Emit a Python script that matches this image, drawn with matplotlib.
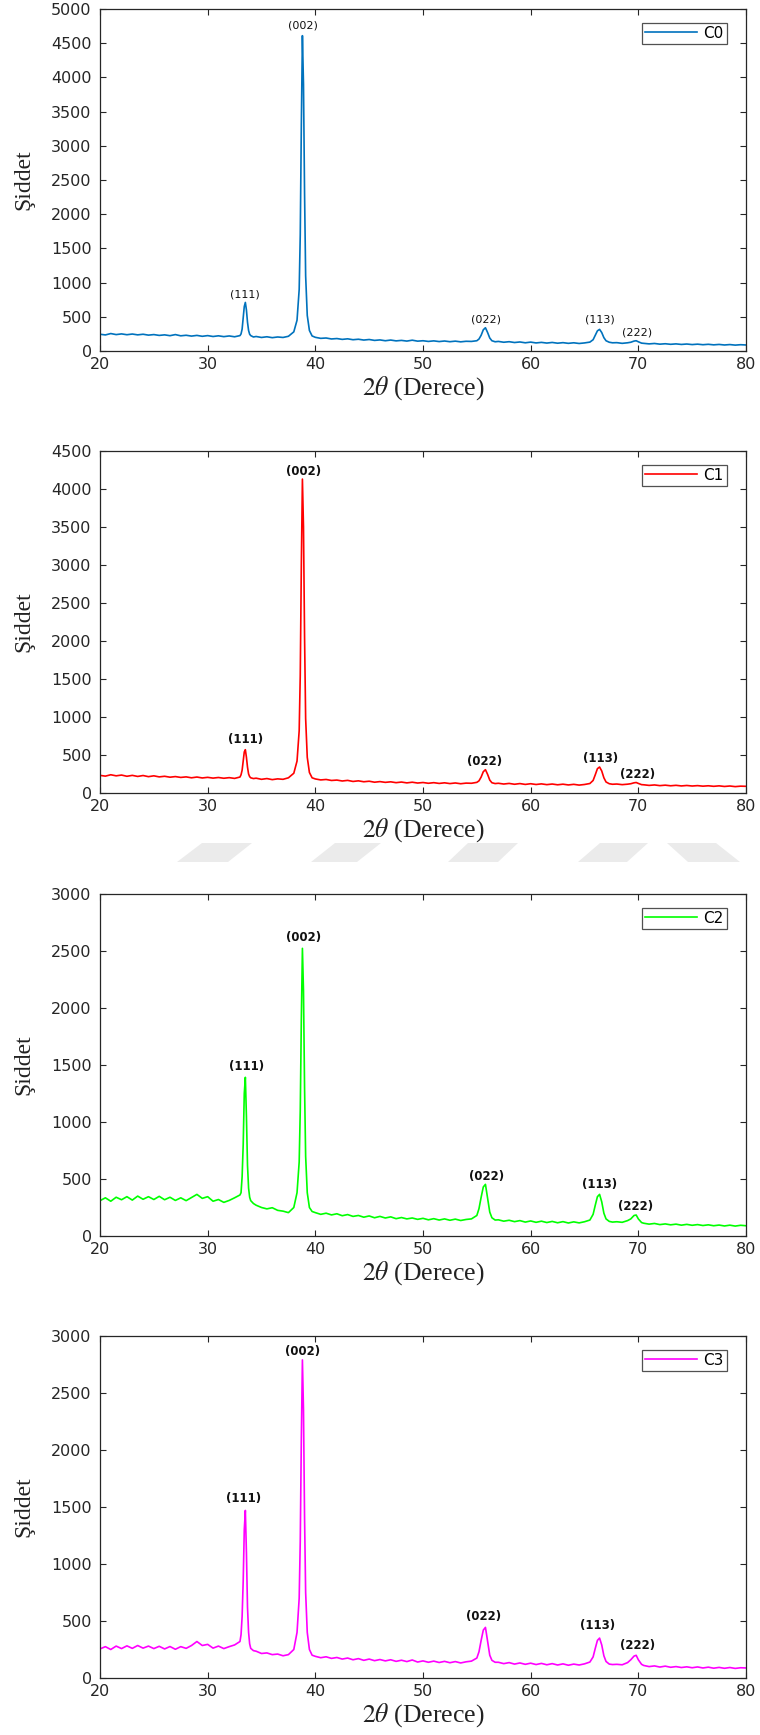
import matplotlib
matplotlib.use("Agg")
import matplotlib.pyplot as plt
from matplotlib.patches import Polygon

# 2-theta grid (degrees), denser around the reflections
TWO_THETA = [
    20.0, 20.5, 21.0, 21.5, 22.0, 22.5, 23.0, 23.5, 24.0, 24.5, 25.0, 25.5, 26.0,
    26.5, 27.0, 27.5, 28.0, 28.5, 29.0, 29.5, 30.0, 30.5, 31.0, 31.5, 32.0, 32.5, 33.0,
    33.1, 33.2, 33.3, 33.4, 33.5, 33.6, 33.7, 33.8, 33.9, 34.0, 34.25,
    34.5, 35.0, 35.5, 36.0, 36.5, 37.0, 37.5, 38.0,
    38.3, 38.5, 38.6, 38.7, 38.8, 38.9, 39.0, 39.1, 39.25, 39.45, 39.7,
    40.0, 40.5, 41.0, 41.5, 42.0, 42.5, 43.0, 43.5, 44.0, 44.5, 45.0, 45.5, 46.0,
    46.5, 47.0, 47.5, 48.0, 48.5, 49.0, 49.5, 50.0, 50.5, 51.0, 51.5, 52.0, 52.5,
    53.0, 53.5, 54.0, 54.5, 55.0,
    55.2, 55.4, 55.6, 55.8, 56.0, 56.2, 56.4, 56.7,
    57.0, 57.5, 58.0, 58.5, 59.0, 59.5, 60.0, 60.5, 61.0, 61.5, 62.0, 62.5, 63.0,
    63.5, 64.0, 64.5, 65.0, 65.5,
    65.8, 66.0, 66.2, 66.4, 66.6, 66.8, 67.0, 67.3, 67.6,
    68.0, 68.5, 69.0,
    69.3, 69.6, 69.8, 70.0, 70.3,
    70.5, 71.0, 71.5, 72.0, 72.5, 73.0, 73.5, 74.0, 74.5, 75.0, 75.5, 76.0, 76.5,
    77.0, 77.5, 78.0, 78.5, 79.0, 79.5, 80.0,
]

C0_INTENSITY = [
    245, 235, 255, 240, 250, 238, 248, 236, 245, 232, 240, 228, 236,
    224, 240, 222, 230, 218, 228, 215, 225, 212, 222, 210, 220, 208, 225,
    250, 320, 480, 650, 710, 600, 420, 300, 245, 225, 205,
    212, 198, 208, 195, 205, 198, 215, 280,
    450, 900, 1700, 3300, 4610, 3900, 2300, 1100, 520, 300, 220,
    200, 185, 190, 176, 182, 170, 178, 165, 172, 160, 168, 155, 162,
    150, 160, 148, 155, 145, 158, 144, 150, 140, 148, 138, 146, 136,
    144, 134, 142, 140, 150,
    175, 230, 310, 340, 270, 190, 150, 135,
    140, 128, 136, 124, 132, 120, 130, 118, 126, 116, 125, 114, 122,
    112, 120, 110, 118, 130,
    165, 230, 295, 316, 270, 195, 150, 128, 120,
    122, 112, 120,
    128, 145, 150, 135, 115,
    112, 104, 110, 100, 106, 98, 104, 96, 102, 94, 100, 92, 98,
    90, 96, 88, 94, 86, 92, 88,
]

C1_INTENSITY = [
    232, 222, 240, 226, 236, 220, 232, 218, 230, 215, 226, 212, 220,
    208, 216, 205, 212, 200, 210, 198, 206, 196, 204, 194, 202, 192, 210,
    240, 300, 420, 540, 570, 470, 340, 250, 215, 200, 190,
    195, 180, 190, 176, 186, 180, 200, 260,
    420, 820, 1550, 3000, 4130, 3500, 2050, 980, 470, 270, 200,
    185, 172, 178, 165, 170, 158, 166, 152, 160, 148, 155, 142, 150,
    140, 147, 136, 144, 133, 142, 131, 138, 128, 136, 126, 134, 124,
    132, 122, 130, 128, 140,
    160, 210, 280, 307, 245, 170, 135, 124,
    128, 118, 126, 115, 124, 113, 122, 112, 120, 110, 118, 108, 116,
    106, 114, 104, 112, 125,
    165, 240, 320, 342, 290, 200, 145, 122, 115,
    118, 110, 116,
    122, 134, 138, 126, 110,
    108, 100, 106, 97, 103, 95, 101, 93, 99, 92, 97, 90, 95,
    88, 94, 86, 92, 84, 90, 88,
]

C2_INTENSITY = [
    310, 335, 305, 340, 318, 345, 315, 350, 322, 345, 320, 348, 318,
    340, 312, 335, 310, 338, 365, 330, 345, 305, 320, 295, 312, 335, 360,
    380, 520, 800, 1250, 1392, 1050, 620, 420, 340, 310, 285,
    270, 250, 238, 248, 225, 218, 205, 250,
    380, 650, 1100, 1900, 2523, 2150, 1300, 700, 380, 250, 215,
    205, 190, 200, 185, 195, 178, 188, 172, 180, 165, 176, 160, 172,
    158, 168, 152, 162, 150, 158, 146, 155, 142, 152, 140, 150, 138,
    148, 136, 145, 150, 180,
    240, 340, 430, 453, 330, 210, 160, 140,
    142, 130, 138, 126, 135, 122, 132, 120, 130, 118, 128, 116, 126,
    114, 124, 115, 125, 140,
    190, 270, 345, 365, 300, 200, 150, 128, 122,
    125, 120, 135,
    150, 180, 184, 150, 118,
    112, 104, 110, 100, 106, 98, 104, 95, 102, 94, 100, 92, 98,
    90, 96, 88, 95, 87, 94, 90,
]

C3_INTENSITY = [
    255, 275, 250, 280, 258, 282, 260, 285, 262, 280, 258, 278, 255,
    276, 252, 275, 260, 285, 320, 285, 295, 262, 280, 258, 275, 290, 320,
    380, 540, 850, 1300, 1470, 1100, 620, 400, 300, 260, 240,
    235, 215, 220, 205, 210, 195, 205, 250,
    400, 700, 1200, 2100, 2790, 2350, 1400, 750, 400, 250, 200,
    190, 178, 186, 172, 180, 166, 175, 160, 170, 155, 166, 152, 162,
    150, 160, 146, 156, 144, 158, 140, 150, 138, 148, 136, 146, 134,
    144, 132, 142, 148, 175,
    230, 330, 420, 444, 320, 200, 155, 138,
    138, 126, 135, 122, 132, 120, 130, 118, 128, 116, 126, 114, 124,
    112, 122, 114, 124, 140,
    185, 260, 330, 350, 290, 195, 145, 122, 118,
    120, 116, 135,
    160, 192, 199, 160, 120,
    110, 100, 106, 96, 104, 94, 100, 92, 98, 90, 97, 88, 95,
    86, 93, 85, 92, 84, 90, 88,
]

SAMPLES = ["C0", "C1", "C2", "C3"]
INTENSITIES = [C0_INTENSITY, C1_INTENSITY, C2_INTENSITY, C3_INTENSITY]
Y_MAX = [5000, 4500, 3000, 3000]

PEAK_NAMES = ["(111)", "(002)", "(022)", "(113)", "(222)"]
# where each hkl label sits (x in degrees, y in counts)
LABEL_X = [
    [33.5, 38.85, 55.85, 66.4, 69.85],
    [33.55, 38.95, 55.75, 66.5, 69.9],
    [33.6, 38.95, 55.9, 66.4, 69.75],
    [33.35, 38.85, 55.65, 66.2, 69.95],
]
LABEL_Y = [
    [830, 4766, 465, 465, 265],
    [710, 4228, 408, 460, 241],
    [1485, 2620, 524, 450, 260],
    [1572, 2866, 540, 459, 283],
]

COLORS = ["#0072BD", "#FF0000", "#00FF00", "#FF00FF"]
AXIS_COLOR = "#262626"

plt.rcParams.update({
    "font.family": "DejaVu Sans",
    "mathtext.fontset": "stix",
    "axes.edgecolor": AXIS_COLOR,
    "axes.linewidth": 0.9,
    "xtick.direction": "in",
    "ytick.direction": "in",
    "xtick.top": True,
    "ytick.right": True,
    "xtick.color": AXIS_COLOR,
    "ytick.color": AXIS_COLOR,
    "xtick.major.size": 4,
    "ytick.major.size": 4,
    "xtick.major.width": 0.8,
    "ytick.major.width": 0.8,
    "xtick.labelsize": 11.5,
    "ytick.labelsize": 11.5,
    "xtick.major.pad": 4.5,
    "ytick.major.pad": 6,
})

fig = plt.figure(figsize=(7.6, 17.35), dpi=100)

left, width, height = 100 / 760, 646 / 760, 342 / 1735
bottoms_px = [351, 793, 1236, 1678]

for i, name in enumerate(SAMPLES):
    ax = fig.add_axes([left, 1 - bottoms_px[i] / 1735, width, height])
    ax.plot(TWO_THETA, INTENSITIES[i], color=COLORS[i], lw=1.2, label=name)

    ax.set_xlim(20, 80)
    ax.set_ylim(0, Y_MAX[i])
    ax.set_xticks(range(20, 81, 10))
    ax.set_yticks(range(0, Y_MAX[i] + 1, 500))

    weight = "normal" if i == 0 else "bold"
    size = 8 if i == 0 else 8.5
    for lab, lx, ly in zip(PEAK_NAMES, LABEL_X[i], LABEL_Y[i]):
        ax.text(lx, ly, lab, ha="center", va="center", fontsize=size,
                fontweight=weight, color="#111111")

    ax.set_ylabel("Şiddet", family="Liberation Serif", fontsize=17,
                  color="#222222", va="center")
    ax.yaxis.set_label_coords(-0.118, 0.5)
    ax.set_xlabel(r"$2\theta$ (Derece)", family="Liberation Serif",
                  fontsize=18.5, color="#222222", va="center")
    ax.xaxis.set_label_coords(0.5, -0.108)

    leg = ax.legend(loc="upper right", bbox_to_anchor=(0.97, 0.96),
                    fontsize=11, fancybox=False, borderpad=0.2,
                    handlelength=3.4, handletextpad=0.4, borderaxespad=0)
    leg.get_frame().set_edgecolor(AXIS_COLOR)
    leg.get_frame().set_linewidth(0.9)

# faint watermark band between the 2nd and 3rd panels
WATERMARK = [
    [(177, 862), (228, 862), (252, 843), (202, 843)],
    [(311, 862), (357, 862), (381, 843), (335, 843)],
    [(448, 862), (498, 862), (518, 843), (468, 843)],
    [(578, 862), (627, 862), (648, 843), (600, 843)],
    [(688, 862), (740, 862), (716, 843), (667, 843)],
]
for shape in WATERMARK:
    pts = [(px / 760, 1 - py / 1735) for px, py in shape]
    fig.patches.append(Polygon(pts, closed=True, transform=fig.transFigure,
                               facecolor="#ebebeb", edgecolor="none",
                               zorder=0))

fig.savefig("out.png", dpi=100)
